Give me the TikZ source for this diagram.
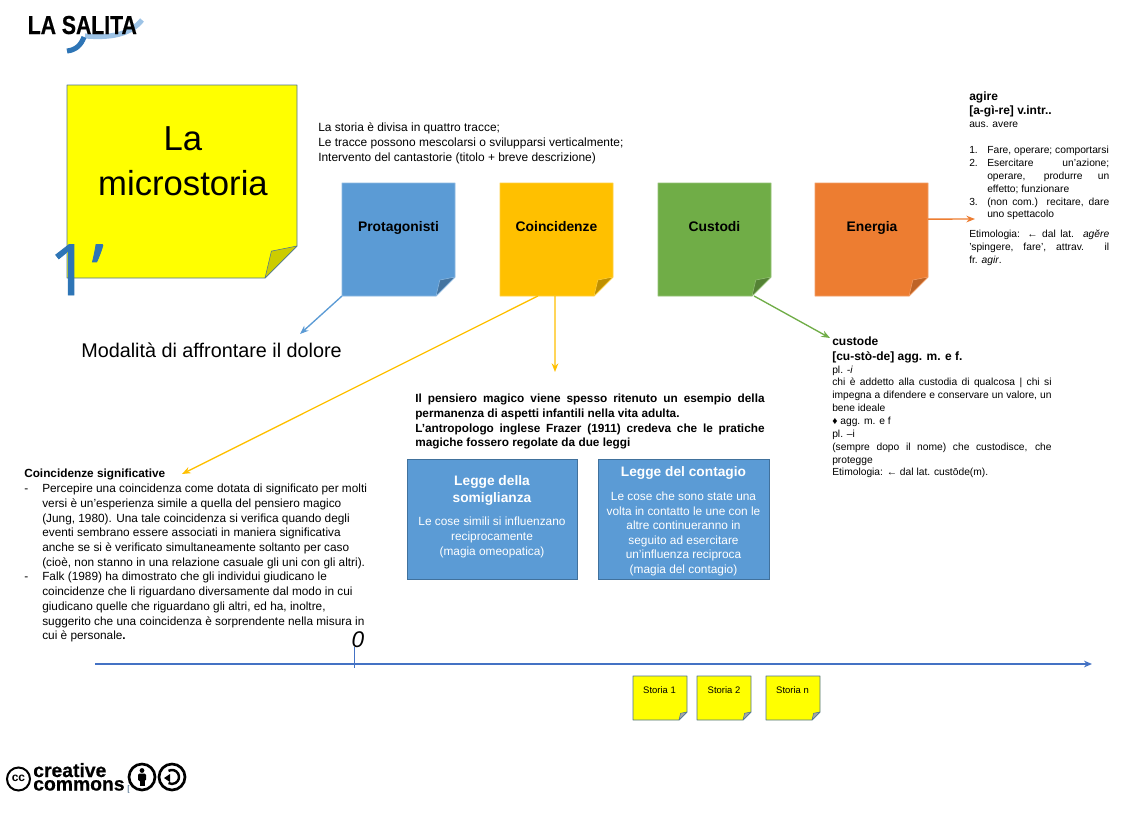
\documentclass[tikz,border=0pt]{standalone}
\usepackage{fontspec}
\setmainfont{Liberation Sans}
\newfontfamily\narrowfont[FakeStretch=0.815,BoldFeatures={FakeBold=0.5}]{Liberation Sans}
\newfontfamily\heavyfont[BoldFeatures={FakeBold=0.6}]{Liberation Sans}
\newfontfamily\onefont[FakeBold=1.2]{Open Sans}
\usetikzlibrary{calc,arrows.meta}
\setlength{\parindent}{0pt}
\definecolor{cblue}{HTML}{5B9BD5}
\definecolor{cdeep}{HTML}{2E75B6}
\definecolor{camber}{HTML}{FFC000}
\definecolor{cgreen}{HTML}{70AD47}
\definecolor{corange}{HTML}{ED7D31}
\definecolor{cline}{HTML}{4472C4}
\definecolor{cedge}{HTML}{41719C}
\definecolor{cyellow}{HTML}{FFFF00}
\definecolor{cfold}{HTML}{CCCC00}
\newcommand{\fpx}[2]{\fontsize{#1}{#2}\selectfont}
% name, x1,y1,x2,y2, fill, edge, foldfill, fold size
\newcommand{\stickynote}[9]{%
  \node[holder,minimum width={(#4-#2)*0.75pt},minimum height={(#5-#3)*0.75pt}] (#1) at ({(#2+#4)/2},{(#3+#5)/2}) {};
  \draw[draw=#7,fill=#6,line width=.7pt,line join=round] (#2,#3) -- (#4,#3) -- (#4,{#5-#9}) -- ({#4-#9},#5) -- (#2,#5) -- cycle;
  \draw[draw=#7,fill=#8,line width=.4pt,line join=round] ({#4-#9},#5) -- ({#4-0.8*#9},{#5-0.84*#9}) -- (#4,{#5-#9}) -- cycle;
}
\tikzset{
  holder/.style={inner sep=0pt,outer sep=0pt,draw=none},
  notelabel/.style={inner sep=0pt,anchor=base,font=\bfseries\fpx{10.4}{12}},
  link/.style={line width=1pt,-{Stealth[length=6.5pt,width=5pt]}},
  para/.style={inner sep=0pt,anchor=north west,align=justify},
  boxnote/.style={draw=cedge,fill=cblue,line width=.6pt,inner sep=0pt},
  boxtext/.style={inner sep=0pt,text=white,align=center},
  storia/.style={inner sep=0pt,font=\fpx{7.1}{9}},
}
\begin{document}
\begin{tikzpicture}[x=0.75pt,y=-0.75pt]
\useasboundingbox[fill=white] (0,0) rectangle (1142,818);
% logo
\draw[draw=cblue!60,line width=3.8pt] (85,36) .. controls (110,38) and (130,35) .. (142,20);
\draw[draw=cdeep,line width=3.8pt] (67,51) .. controls (76,50) and (81,45) .. (84,37);
\node[inner sep=0pt,anchor=base west] (salita) at (27.5,34) {\narrowfont\bfseries\fpx{19.5}{22}LA SALITA};
% main note
\stickynote{main}{67}{85}{297}{278}{cyellow}{cedge!80!gray}{cfold}{32}
\node[inner sep=0pt,align=center,font=\fpx{26}{33.8}] (mainlabel) at (183,161) {La\\microstoria};
\node[inner sep=0pt,anchor=base west,text=cdeep,font=\onefont\fpx{53}{60}] (one) at (49,295) {1\kern1.5pt’};
% intro
\node[para,anchor=north west,align=left,font=\fpx{8.95}{11.6}] (intro) at (318,122) {La storia è divisa in quattro tracce;\\Le tracce possono mescolarsi o svilupparsi verticalmente;\\Intervento del cantastorie (titolo + breve descrizione)};
% four notes
\stickynote{protag}{342}{183}{455}{296}{cblue}{cblue!70!white}{cblue!75!black}{19}
\stickynote{coinc}{500}{183}{613}{296}{camber}{camber!75!white}{camber!75!black}{19}
\stickynote{custodi}{658}{183}{771}{296}{cgreen}{cgreen!75!white}{cgreen!75!black}{19}
\stickynote{energia}{815}{183}{928}{296}{corange}{corange!75!white}{corange!80!black}{19}
\node[notelabel] (lprotag) at (398.5,231) {Protagonisti};
\node[notelabel] (lcoinc) at (556.5,231) {Coincidenze};
\node[notelabel] (lcustodi) at (714.5,231) {Custodi};
\node[notelabel] (lenergia) at (872,231) {Energia};
% free ends
\coordinate (endblue) at (300,334);
\coordinate (endsig) at (182,474);
\coordinate (endmag) at (555,372);
\coordinate (endcus) at (830,338);
\coordinate (endagi) at (975,219);
\draw[link,draw=cblue] (protag.south west) -- (endblue);
\draw[link,draw=camber] ($(coinc.south west)!0.336!(coinc.south east)$) -- (endsig);
\draw[link,draw=camber] ($(coinc.south west)!0.487!(coinc.south east)$) -- (endmag);
\draw[link,draw=cgreen] ($(custodi.south west)!0.85!(custodi.south east)$) -- (endcus);
\draw[link,draw=corange] ($(energia.south east)!0.68!(energia.north east)$) -- (endagi);
% texts
\node[inner sep=0pt,anchor=base west,font=\fpx{14.85}{16}] (modalita) at (81,357) {Modalità di affrontare il dolore};
\node[para,text width=105pt] (agire) at (969,91.5) {%
  {\bfseries\fpx{9}{10.9}agire\par [a-gì-re] v.intr..\par}
  {\fpx{7.7}{9.65}aus. avere\par\vspace{9.65pt}
  \hangindent=13.5pt\hangafter=1\makebox[13.5pt][l]{1.}Fare, operare; comportarsi\par
  \hangindent=13.5pt\hangafter=1\makebox[13.5pt][l]{2.}Esercitare un’azione;\linebreak operare, produrre un\linebreak effetto; funzionare\par
  \hangindent=13.5pt\hangafter=1\makebox[13.5pt][l]{3.}(non com.) recitare, dare\linebreak uno spettacolo\par\vspace{5pt}
  Etimologia: ← dal lat. \textit{agĕre}\linebreak ’spingere, fare’, attrav. il\linebreak fr. \textit{agir}.\par}};
\node[para,text width=164.5pt] (custode) at (832,336.5) {%
  {\bfseries\fpx{9}{11}custode\par [cu-stò-de] agg. m. e f.\par}
  {\fpx{7.7}{9.65}pl. \textit{-i}\par
  chi è addetto alla custodia di qualcosa | chi si\linebreak impegna a difendere e conservare un valore, un\linebreak bene ideale\par
  ♦ agg. m. e f\par
  pl. –i\par
  (sempre dopo il nome) che custodisce, che\linebreak protegge\par
  Etimologia: ← dal lat. custōde(m).\par}};
\node[para,text width=262pt,font=\bfseries\fpx{8.85}{11}] (pensiero) at (415,394) {Il pensiero magico viene spesso ritenuto un esempio della\linebreak permanenza di aspetti infantili nella vita adulta.\par L’antropologo inglese Frazer (1911) credeva che le pratiche\linebreak magiche fossero regolate da due leggi};
\node[para,text width=258pt] (signif) at (24,469) {%
  {\bfseries\fpx{8.85}{11}Coincidenze significative\par}
  {\fpx{8.87}{11.05}%
  \hangindent=13.5pt\hangafter=1\makebox[13.5pt][l]{-}Percepire una coincidenza come dotata di significato per molti\\ versi è un’esperienza simile a quella del pensiero magico\\ (Jung, 1980). Una tale coincidenza si verifica quando degli\\ eventi sembrano essere associati in maniera significativa\\ anche se si è verificato simultaneamente soltanto per caso\\ (cioè, non stanno in una relazione casuale gli uni con gli altri).\par
  \hangindent=13.5pt\hangafter=1\makebox[13.5pt][l]{-}Falk (1989) ha dimostrato che gli individui giudicano le\\ coincidenze che li riguardano diversamente dal modo in cui\\ giudicano quelle che riguardano gli altri, ed ha, inoltre,\\ suggerito che una coincidenza è sorprendente nella misura in\\ cui è personale\textbf{.}\par}};
% law boxes
\node[boxnote,minimum width=127.5pt,minimum height=90pt] (somi) at (492,519) {};
\node[boxnote,minimum width=128.2pt,minimum height=90pt] (cont) at (683.5,519) {};
\node[boxtext,font=\bfseries\fpx{10.3}{12.8}] (somit) at (492,490.5) {Legge della\\somiglianza};
\node[boxtext,font=\fpx{8.9}{11.2}] (somib) at (492,537) {Le cose simili si influenzano\\reciprocamente\\(magia omeopatica)};
\node[boxtext,font=\bfseries\fpx{10.3}{12.8}] (contt) at (683.5,473) {Legge del contagio};
\node[boxtext,font=\fpx{8.9}{10.9}] (contb) at (683.5,534) {Le cose che sono state una\\volta in contatto le une con le\\altre continueranno in\\seguito ad esercitare\\un’influenza reciproca\\(magia del contagio)};
% timeline
\coordinate (tstart) at (95,664);
\coordinate (tend) at (1092,664);
\coordinate (ttop) at (354,647);
\coordinate (tbot) at (354,668);
\draw[line width=1pt,draw=cline,-{Stealth[length=6pt,width=5pt]}] (tstart) -- (tend);
\draw[line width=.7pt,draw=cline] (ttop) -- (tbot);
\node[inner sep=0pt,anchor=base,font=\itshape\fpx{17}{20}] (zero) at (358,647) {0};
% story notes
\stickynote{s1}{633}{676}{687}{720}{cyellow}{cedge!80!gray}{gray!70}{8}
\stickynote{s2}{697}{676}{751}{720}{cyellow}{cedge!80!gray}{gray!70}{8}
\stickynote{s3}{766}{676}{820}{720}{cyellow}{cedge!80!gray}{gray!70}{8}
\node[storia] (ls1) at (659.5,690.5) {Storia 1};
\node[storia] (ls2) at (724,690.5) {Storia 2};
\node[storia] (ls3) at (792.5,690.5) {Storia n};
% creative commons
\draw[line width=1.5pt,black] (18.5,779) circle (11.5);
\node[inner sep=0pt,font=\bfseries\fpx{9}{10}] (cc) at (18.5,778) {cc};
\node[inner sep=0pt,anchor=base west,font=\heavyfont\bfseries\fpx{14.5}{16}] (creative) at (33,777) {creative};
\node[inner sep=0pt,anchor=base west,font=\heavyfont\bfseries\fpx{14.5}{16}] (commons) at (33,790.5) {commons};
\node[inner sep=0pt,anchor=base west,font=\fpx{6}{7},text=cdeep!60!black] (brk) at (127,791) {[};
\draw[line width=2pt,black] (142,777) circle (13);
\fill[black] (142,770.5) circle (2.4);
\fill[black,rounded corners=1pt] (138,773.5) rectangle (146,781);
\fill[black] (139.5,780) rectangle (144.5,786);
\draw[line width=2pt,black] (172,777) circle (13);
\draw[line width=1.8pt,black] (168.5,770.9) arc[start angle=-120,end angle=120,radius=7];
\fill[black] (164,778) -- (170,774) -- (170,782) -- cycle;
\end{tikzpicture}
\end{document}
